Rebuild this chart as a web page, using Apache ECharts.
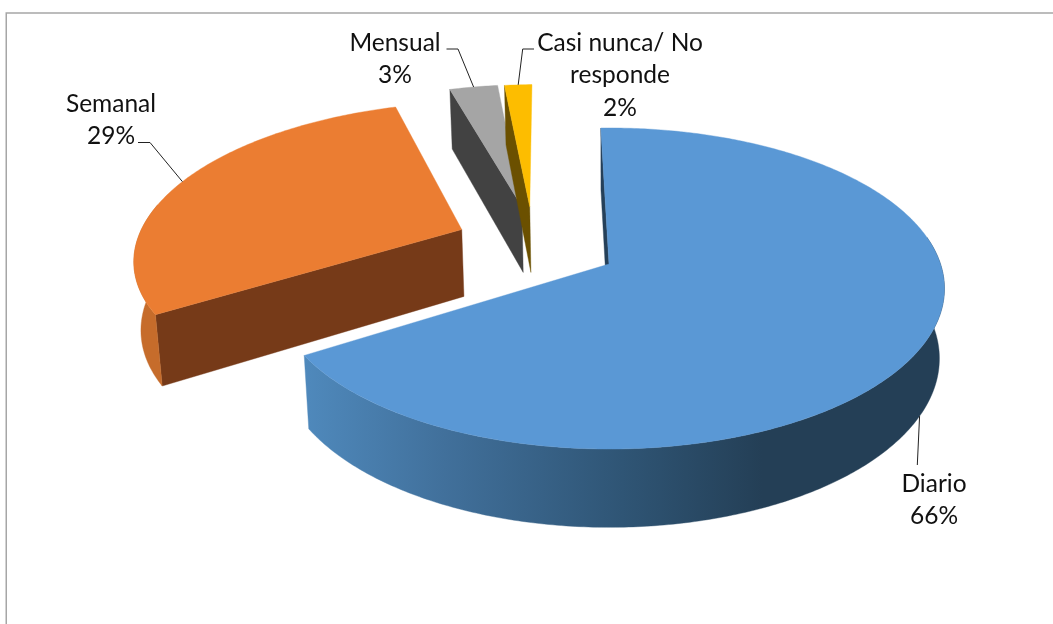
<!DOCTYPE html>
<html>
<head>
<meta charset="utf-8">
<style>html,body{margin:0;padding:0;background:#fff}#c{width:1053px;height:624px}</style>
<script src="https://cdn.jsdelivr.net/npm/echarts@6/dist/echarts.min.js"></script>
</head>
<body>
<div id="c"></div>
<script>
// ---- data ----
var categories = ['Diario', 'Semanal', 'Mensual', 'Casi nunca/ No\nresponde'];
var values = [66.45, 29.15, 2.8, 1.6];

// ---- styles ----
var topColors = ['#5A98D5', '#EB7D32', '#A5A5A5', '#FDBD00'];
var rimColors = [null, '#C66C2B', '#424242', '#6B5000'];
var wallColors = ['#254059', '#763A18', '#424242', '#6B5000'];

// ---- projection / layout ----
var view = {cx: 608, cy: 264, rx: 331.5, ry: 156.8, persp: 0.1526, depth: 68.7, shrink: 0.985, startAngle: -1.6};
var explode = [[0.003, 0], [-0.4565, -0.2275], [-0.275, -0.387], [-0.25, -0.387]];
var labelPos = [[934, 484], [111, 104], [395, 43], [620, 43]];
var elbows = [
  [[917.3, 465]],
  [[138, 142.5], [150, 142.5]],
  [[446.5, 49], [458, 49]],
  [[534, 49], [522.7, 49]]
];
var anchorAtBase = [true, false, false, false];
var lineHeight = 32.5;
var font = '24.5px Lato, "Open Sans", sans-serif';

function project(wx, wy, low) {
  var s = 1 / (1 - view.persp * wy);
  var k = low ? view.shrink : 1;
  return [
    view.cx + view.rx * wx * s * k,
    view.cy + view.ry * wy * s * k + (low ? view.depth * s : 0)
  ];
}
function rim(i, deg, low) {
  var a = deg * Math.PI / 180;
  return project(explode[i][0] + Math.sin(a), explode[i][1] - Math.cos(a), low);
}
function apex(i, low) { return project(explode[i][0], explode[i][1], low); }

var total = values.reduce(function (a, b) { return a + b; }, 0);
var bounds = [view.startAngle];
values.forEach(function (v, i) { bounds.push(bounds[i] + v / total * 360); });

function arc(i, low, reverse, a0, a1) {
  var pts = [], n = Math.max(1, Math.ceil((a1 - a0) * 1.5));
  for (var j = 0; j <= n; j++) pts.push(rim(i, a0 + (a1 - a0) * j / n, low));
  return reverse ? pts.reverse() : pts;
}
function poly(points, fill) {
  return {type: 'polygon', shape: {points: points}, style: {fill: fill, stroke: fill, lineWidth: 0.4}};
}

function renderItem(params, api) {
  var i = params.dataIndex, ch = [];
  var a0 = bounds[i], a1 = bounds[i + 1];
  var leftEdge = rim(0, bounds[1], false)[0], rightEdge = rim(0, 90, false)[0];
  var rimFill = rimColors[i] || new echarts.graphic.LinearGradient(leftEdge, 0, rightEdge, 0, [
    {offset: 0, color: '#4F89BC'},
    {offset: 0.22, color: '#41709B'},
    {offset: 0.5, color: '#2F5575'},
    {offset: 0.72, color: '#243F56'},
    {offset: 1, color: '#243F56'}
  ], true);
  // visible radial wall: the clockwise-start edge of the slice
  ch.push(poly([apex(i, false), rim(i, a0, false), rim(i, a0, true), apex(i, true)], wallColors[i]));
  // outer wall: only the part of the rim that faces the viewer
  var f0 = Math.max(a0, 80), f1 = Math.min(a1, 280);
  if (f1 > f0) {
    ch.push(poly(arc(i, false, false, f0, f1).concat(arc(i, true, true, f0, f1)), rimFill));
  }
  // top face
  ch.push(poly([apex(i, false)].concat(arc(i, false, false, a0, a1)), topColors[i]));

  // label
  var text = categories[i] + '\n' + Math.round(values[i]) + '%';
  text.split('\n').forEach(function (t, n) {
    ch.push({type: 'text', z2: 10, style: {
      text: t, x: labelPos[i][0], y: labelPos[i][1] + n * lineHeight,
      font: font, fill: '#111', textAlign: 'center', textVerticalAlign: 'middle'
    }});
  });
  // leader line, ending on the slice's mid angle
  var mid = (a0 + a1) / 2;
  ch.push({type: 'polyline', z2: 9, shape: {points: elbows[i].concat([rim(i, mid, anchorAtBase[i])])},
    style: {stroke: '#222', lineWidth: 1, fill: null}});
  return {type: 'group', children: ch};
}

var chart = echarts.init(document.getElementById('c'), null, {renderer: 'canvas'});
chart.setOption({
  animation: false,
  backgroundColor: '#fff',
  graphic: [{type: 'rect', shape: {x: 6.25, y: 13, width: 1100, height: 700},
    style: {fill: 'transparent', stroke: '#A6A6A6', lineWidth: 1.5}, silent: true, z: -1}],
  series: [{
    type: 'custom',
    coordinateSystem: 'none',
    renderItem: renderItem,
    data: categories.map(function (c, i) { return {name: c, value: values[i]}; })
  }]
});
</script>
</body>
</html>
